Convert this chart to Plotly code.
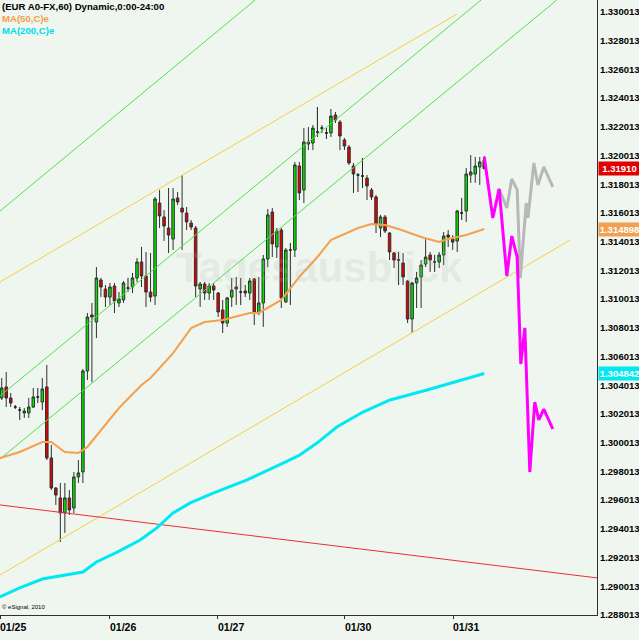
import plotly.graph_objects as go

# ---------------- data ----------------
bar_index = list(range(108))
opens = [1.30313,1.30390,1.30313,1.30250,1.30229,1.30209,1.30209,1.30250,1.30320,1.30285,
         1.30390,1.29895,1.29686,1.29617,1.29512,1.29617,1.29547,1.29763,1.29798,1.30501,
         1.30891,1.30842,1.31135,1.31072,1.31016,1.31093,1.30975,1.30996,1.31079,1.31086,
         1.31149,1.31260,1.31163,1.31051,1.31023,1.31671,1.31574,1.31497,1.31420,1.31706,
         1.31636,1.31601,1.31532,1.31497,1.31072,1.31107,1.31044,1.31093,1.31044,1.30926,
         1.30835,1.31016,1.31086,1.31051,1.31058,1.31044,1.31142,1.30905,1.30975,1.31281,
         1.31608,1.31365,1.31483,1.30982,1.31344,1.31344,1.31929,1.31762,1.32096,1.32089,
         1.32166,1.32193,1.32159,1.32159,1.32284,1.32235,1.32110,1.32061,1.31929,1.31866,
         1.31859,1.31845,1.31762,1.31713,1.31497,1.31574,1.31462,1.31323,1.31274,1.31253,
         1.31128,1.30863,1.31114,1.31156,1.31246,1.31309,1.31260,1.31260,1.31309,1.31448,
         1.31420,1.31406,1.31601,1.31615,1.31866,1.31873,1.31922,1.31971]
highs = [1.30452,1.30494,1.30348,1.30264,1.30250,1.30243,1.30313,1.30383,1.30383,1.30452,
         1.30543,1.29986,1.29693,1.29721,1.29721,1.29672,1.29798,1.29881,1.30515,1.30905,
         1.30975,1.31225,1.31149,1.31100,1.31114,1.31114,1.31051,1.31128,1.31149,1.31184,
         1.31288,1.31365,1.31330,1.31323,1.31713,1.31762,1.31622,1.31776,1.31776,1.31748,
         1.31866,1.31643,1.31553,1.31511,1.31121,1.31121,1.31114,1.31114,1.31051,1.30996,
         1.31016,1.31149,1.31156,1.31149,1.31100,1.31149,1.31149,1.31156,1.31309,1.31629,
         1.31636,1.31497,1.31497,1.31358,1.31393,1.31957,1.31957,1.32193,1.32200,1.32214,
         1.32340,1.32214,1.32193,1.32326,1.32305,1.32249,1.32124,1.32075,1.31950,1.31880,
         1.31985,1.31866,1.31776,1.31727,1.31588,1.31588,1.31469,1.31330,1.31330,1.31323,
         1.31135,1.31121,1.31191,1.31274,1.31427,1.31330,1.31309,1.31330,1.31469,1.31483,
         1.31448,1.31622,1.31706,1.31915,1.32005,1.31992,1.31992,1.31999]
lows = [1.30299,1.30250,1.30250,1.30236,1.30160,1.30174,1.30174,1.30243,1.30278,1.30229,
        1.29881,1.29672,1.29568,1.29310,1.29373,1.29498,1.29512,1.29721,1.29721,1.30438,
        1.30424,1.30731,1.31016,1.30947,1.30961,1.30905,1.30947,1.30975,1.31051,1.31044,
        1.31121,1.31086,1.30947,1.30982,1.30961,1.31497,1.31407,1.31323,1.31344,1.31657,
        1.31344,1.31483,1.31483,1.31016,1.30947,1.30996,1.30996,1.30996,1.30877,1.30766,
        1.30808,1.30947,1.30961,1.30961,1.31016,1.30996,1.30821,1.30891,1.30808,1.31225,
        1.31295,1.31288,1.30940,1.30975,1.30961,1.31295,1.31692,1.31671,1.32040,1.32040,
        1.32131,1.32159,1.32117,1.32131,1.32228,1.32040,1.32040,1.31936,1.31741,1.31748,
        1.31776,1.31692,1.31692,1.31462,1.31434,1.31462,1.31274,1.31218,1.31100,1.31100,
        1.30835,1.30766,1.30940,1.30940,1.31225,1.31191,1.31191,1.31218,1.31239,1.31365,
        1.31344,1.31330,1.31553,1.31539,1.31811,1.31811,1.31797,1.31922]
closes = [1.30383,1.30313,1.30278,1.30250,1.30229,1.30222,1.30250,1.30320,1.30320,1.30376,
          1.29895,1.29686,1.29637,1.29512,1.29617,1.29533,1.29763,1.29791,1.30501,1.30877,
          1.30877,1.31149,1.31086,1.31016,1.31086,1.30989,1.31003,1.31114,1.31079,1.31149,
          1.31260,1.31163,1.31051,1.31016,1.31699,1.31581,1.31511,1.31448,1.31699,1.31678,
          1.31608,1.31539,1.31504,1.31093,1.31107,1.31044,1.31093,1.31065,1.30912,1.30835,
          1.31010,1.31065,1.31072,1.31051,1.31044,1.31128,1.30905,1.30975,1.31281,1.31588,
          1.31386,1.31476,1.31010,1.31344,1.31344,1.31936,1.31741,1.32096,1.32082,1.32193,
          1.32166,1.32193,1.32159,1.32277,1.32249,1.32138,1.32068,1.31950,1.31873,1.31866,
          1.31859,1.31790,1.31713,1.31525,1.31574,1.31476,1.31330,1.31274,1.31274,1.31156,
          1.30863,1.31114,1.31149,1.31239,1.31295,1.31274,1.31260,1.31309,1.31441,1.31434,
          1.31399,1.31615,1.31601,1.31873,1.31887,1.31929,1.31957,1.31910]

ma50_x = [-0.38, 4, 9, 11, 14, 17, 19, 22, 26, 31, 33, 38, 42, 45, 49, 55, 57, 62, 66, 70,
          73, 79, 82, 85, 88, 93, 97, 99, 103, 107]
ma50_y = [1.29895,1.29937,1.30006,1.30006,1.29937,1.29930,1.29972,1.30090,1.30243,1.30403,
          1.30452,1.30626,1.30800,1.30842,1.30856,1.30905,1.30905,1.30996,1.31156,1.31295,
          1.31413,1.31497,1.31525,1.31518,1.31490,1.31434,1.31399,1.31420,1.31448,1.31490]
ma200_x = [-0.38, 4, 9, 14.5, 18, 21, 25.6, 30.7, 34.4, 38, 41.8, 46.9, 54.4, 62.4, 66.1,
           69.9, 74.3, 80.1, 86.1, 94.3, 101.6, 107]
ma200_y = [1.28927,1.28990,1.29052,1.29080,1.29101,1.29171,1.29240,1.29324,1.29408,1.29512,
           1.29582,1.29651,1.29742,1.29860,1.29916,1.29999,1.30111,1.30215,1.30299,1.30369,
           1.30438,1.30484]

proj_pink_x = [107, 108.9, 110.3, 112.0, 113.1, 114.3, 115.1, 116.0, 117.1, 118.2, 119.1, 120.2, 122.2]
proj_pink_y = [1.31992,1.31567,1.31769,1.31163,1.31441,1.31295,1.30550,1.30801,1.29797,1.30285,
               1.30160,1.30236,1.30097]
proj_gray_x = [110.3, 112.0, 113.1, 114.3, 115.0, 116.3, 116.7, 118.0, 118.9, 120.2, 122.2]
proj_gray_y = [1.31769,1.31636,1.31838,1.31762,1.31149,1.31671,1.31567,1.31950,1.31797,1.31922,1.31783]

# trend lines: (x0, y0, x1, y1) in bar index / price
green_lines = [(-0.38, 1.31615, 56.2, 1.33085),
               (-0.38, 1.30327, 106.3, 1.33085),
               (-0.38, 1.29888, 123.1, 1.33085)]
yellow_lines = [(-0.38, 1.31121, 100.96, 1.32987),
                (-0.38, 1.29080, 126.0, 1.31413)]
red_line = (-0.38, 1.29568, 132.0, 1.29060)

date_ticks = [-0.38, 24.0, 47.95, 76.1, 100.1]
date_labels = ["01/25", "01/26", "01/27", "01/30", "01/31"]
price_ticks = [round(1.288013 + 0.002 * k, 6) for k in range(22)]
price_labels = ["%.6f" % v for v in price_ticks]

last_close = 1.31910
ma50_last = 1.314898
ma200_last = 1.304842

# ---------------- figure ----------------
FONT = "Liberation Sans, Arial, sans-serif"
BG = "#eff6ef"

fig = go.Figure()

for (x0, y0, x1, y1) in green_lines:
    fig.add_trace(go.Scatter(x=[x0, x1], y=[y0, y1], mode="lines",
                             line=dict(color="#50e050", width=1), hoverinfo="skip"))
for (x0, y0, x1, y1) in yellow_lines:
    fig.add_trace(go.Scatter(x=[x0, x1], y=[y0, y1], mode="lines",
                             line=dict(color="#f2d040", width=1), hoverinfo="skip"))
fig.add_trace(go.Scatter(x=[red_line[0], red_line[2]], y=[red_line[1], red_line[3]], mode="lines",
                         line=dict(color="#e83030", width=1), hoverinfo="skip"))

up = [i for i in bar_index if closes[i] > opens[i]]
dn = [i for i in bar_index if closes[i] < opens[i]]
dj = [i for i in bar_index if closes[i] == opens[i]]

def candle(idx, fill, line):
    return go.Candlestick(
        x=idx, open=[opens[i] for i in idx], high=[highs[i] for i in idx],
        low=[lows[i] for i in idx], close=[closes[i] for i in idx],
        increasing=dict(fillcolor=fill, line=dict(color=line, width=1)),
        decreasing=dict(fillcolor=fill, line=dict(color=line, width=1)),
        whiskerwidth=0, hoverinfo="skip")

fig.add_trace(candle(up, "#00e400", "#303030"))
fig.add_trace(candle(dn, "#e40000", "#303030"))
fig.add_trace(candle(dj, "#000000", "#202020"))

fig.add_trace(go.Scatter(x=ma50_x, y=ma50_y, mode="lines",
                         line=dict(color="#f4a04c", width=2), hoverinfo="skip"))
fig.add_trace(go.Scatter(x=ma200_x, y=ma200_y, mode="lines",
                         line=dict(color="#00e8f2", width=3), hoverinfo="skip"))
fig.add_trace(go.Scatter(x=proj_gray_x, y=proj_gray_y, mode="lines",
                         line=dict(color="#b8b8b8", width=3), hoverinfo="skip"))
fig.add_trace(go.Scatter(x=proj_pink_x, y=proj_pink_y, mode="lines",
                         line=dict(color="#ff00ff", width=3), hoverinfo="skip"))

ann = []
# watermark
ann.append(dict(xref="paper", yref="paper", x=0.535, y=0.565, text="Tagesausblick",
                showarrow=False, font=dict(family="Liberation Sans, Arial", size=42,
                                           color="rgba(170,185,170,0.20)", weight="bold")))
# header
ann.append(dict(xref="paper", yref="paper", x=0, y=1, xanchor="left", yanchor="top", yshift=1,
                text="(EUR A0-FX,60) Dynamic,0:00-24:00", showarrow=False,
                font=dict(family=FONT, size=9.6, color="#000000", weight="bold")))
ann.append(dict(xref="paper", yref="paper", x=0, y=1, xanchor="left", yanchor="top", yshift=-11,
                text="MA(50,C)e", showarrow=False,
                font=dict(family=FONT, size=9.6, color="#f4a04c", weight="bold")))
ann.append(dict(xref="paper", yref="paper", x=0, y=1, xanchor="left", yanchor="top", yshift=-23,
                text="MA(200,C)e", showarrow=False,
                font=dict(family=FONT, size=9.6, color="#00dcea", weight="bold")))
ann.append(dict(xref="paper", yref="paper", x=0, y=0, xanchor="left", yanchor="bottom", yshift=3,
                text="\u00a9 eSignal, 2010", showarrow=False,
                font=dict(family=FONT, size=6, color="#000000")))
# date labels (left aligned at ticks)
for xv, lab in zip(date_ticks, date_labels):
    ann.append(dict(xref="x", yref="paper", x=xv, y=0, xanchor="left", yanchor="top", yshift=-4,
                    xshift=-2, text=lab, showarrow=False,
                    font=dict(family=FONT, size=10.5, color="#000000", weight="bold")))
# value boxes on the price axis
for val, txt, col in [(last_close, "1.31910", "#e00000"),
                      (ma50_last, "%.6f" % ma50_last, "#f0a050"),
                      (ma200_last, "%.6f" % ma200_last, "#00e8f2")]:
    ann.append(dict(xref="paper", yref="y", x=1, y=val, xanchor="left", yanchor="middle",
                    xshift=1, text=txt, showarrow=False, bgcolor=col, borderpad=1,
                    width=39, align="center",
                    font=dict(family=FONT, size=9.5, color="#ffffff", weight="bold")))

fig.update_layout(
    width=639, height=640, showlegend=False,
    margin=dict(l=0, r=42, t=0, b=25, pad=0),
    paper_bgcolor=BG, plot_bgcolor=BG,
    boxgap=0.2, hovermode=False,
    annotations=ann,
    xaxis=dict(range=[-0.38, 132.0], showgrid=False, zeroline=False, rangeslider=dict(visible=False),
               showline=True, linecolor="#303030", linewidth=1, automargin=False,
               tickvals=date_ticks, showticklabels=False, ticks="outside", ticklen=3,
               tickcolor="#303030", fixedrange=True),
    yaxis=dict(range=[1.288015, 1.33085], side="right", showgrid=False, zeroline=False,
               showline=True, linecolor="#303030", linewidth=1, automargin=False,
               tickvals=price_ticks, ticktext=price_labels, ticks="",
               tickfont=dict(family=FONT, size=9.5, color="#000000", weight="bold"),
               fixedrange=True),
)

fig.write_html("out.html", config={"displayModeBar": False},
               post_script="document.body.style.margin='0';document.body.style.padding='0';")
